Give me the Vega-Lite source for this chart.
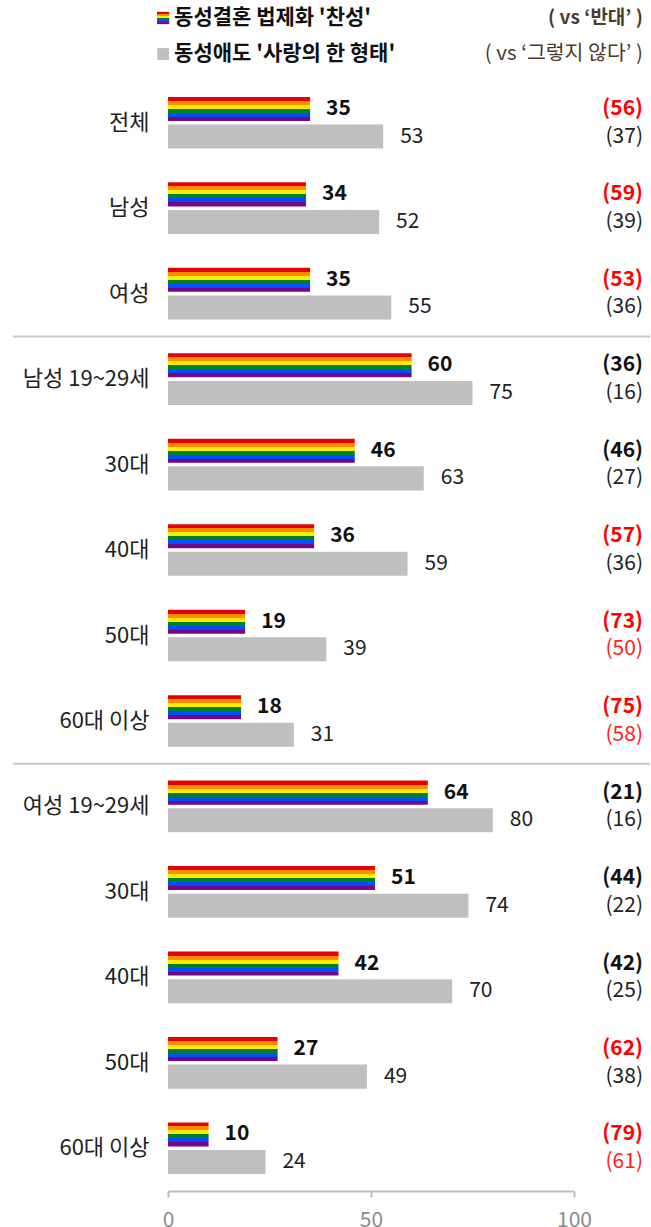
{
  "$schema": "https://vega.github.io/schema/vega-lite/v6.json",
  "autosize": {"type": "pad"},
  "padding": {"left": 11, "top": 0, "right": 0, "bottom": 0},
  "config": {"font": "Noto Sans CJK KR", "view": {"stroke": null}},
  "spacing": 8,
  "datasets": {
    "main": [
      {"id": "01|전체", "series": "찬성", "value": 35, "vs": 56},
      {"id": "01|전체", "series": "사랑", "value": 53, "vs": 37},
      {"id": "02|남성", "series": "찬성", "value": 34, "vs": 59},
      {"id": "02|남성", "series": "사랑", "value": 52, "vs": 39},
      {"id": "03|여성", "series": "찬성", "value": 35, "vs": 53},
      {"id": "03|여성", "series": "사랑", "value": 55, "vs": 36},
      {"id": "04|남성 19~29세", "series": "찬성", "value": 60, "vs": 36},
      {"id": "04|남성 19~29세", "series": "사랑", "value": 75, "vs": 16},
      {"id": "05|30대", "series": "찬성", "value": 46, "vs": 46},
      {"id": "05|30대", "series": "사랑", "value": 63, "vs": 27},
      {"id": "06|40대", "series": "찬성", "value": 36, "vs": 57},
      {"id": "06|40대", "series": "사랑", "value": 59, "vs": 36},
      {"id": "07|50대", "series": "찬성", "value": 19, "vs": 73},
      {"id": "07|50대", "series": "사랑", "value": 39, "vs": 50},
      {"id": "08|60대 이상", "series": "찬성", "value": 18, "vs": 75},
      {"id": "08|60대 이상", "series": "사랑", "value": 31, "vs": 58},
      {"id": "09|여성 19~29세", "series": "찬성", "value": 64, "vs": 21},
      {"id": "09|여성 19~29세", "series": "사랑", "value": 80, "vs": 16},
      {"id": "10|30대", "series": "찬성", "value": 51, "vs": 44},
      {"id": "10|30대", "series": "사랑", "value": 74, "vs": 22},
      {"id": "11|40대", "series": "찬성", "value": 42, "vs": 42},
      {"id": "11|40대", "series": "사랑", "value": 70, "vs": 25},
      {"id": "12|50대", "series": "찬성", "value": 27, "vs": 62},
      {"id": "12|50대", "series": "사랑", "value": 49, "vs": 38},
      {"id": "13|60대 이상", "series": "찬성", "value": 10, "vs": 79},
      {"id": "13|60대 이상", "series": "사랑", "value": 24, "vs": 61}
    ]
  },
  "vconcat": [
    {
      "width": 406,
      "height": 72,
      "data": {"values": [
        {"row": "1", "label": "동성결혼 법제화 '찬성'", "vsLabel": "( vs ‘반대’ )"},
        {"row": "2", "label": "동성애도 '사랑의 한 형태'", "vsLabel": "( vs ‘그렇지 않다’ )"}
      ]},
      "encoding": {
        "y": {"field": "row", "type": "nominal", "axis": null, "scale": {"paddingInner": 0, "paddingOuter": 0}}
      },
      "layer": [
        {
          "transform": [{"filter": "datum.row == '1'"}],
          "mark": {"type": "point", "shape": "square", "size": 150, "filled": true, "opacity": 1,
            "fill": {"gradient": "linear", "x1": 0, "y1": 0, "x2": 0, "y2": 1, "stops": [
              {"offset": 0, "color": "#E40303"}, {"offset": 0.1667, "color": "#E40303"},
              {"offset": 0.1667, "color": "#FF8C00"}, {"offset": 0.3333, "color": "#FF8C00"},
              {"offset": 0.3333, "color": "#FFED00"}, {"offset": 0.5, "color": "#FFED00"},
              {"offset": 0.5, "color": "#008026"}, {"offset": 0.6667, "color": "#008026"},
              {"offset": 0.6667, "color": "#004DFF"}, {"offset": 0.8333, "color": "#004DFF"},
              {"offset": 0.8333, "color": "#750787"}, {"offset": 1, "color": "#750787"}
            ]}},
          "encoding": {"x": {"datum": -1.2, "type": "quantitative", "scale": {"domain": [0, 100]}, "axis": null}}
        },
        {
          "transform": [{"filter": "datum.row == '2'"}],
          "mark": {"type": "point", "shape": "square", "size": 140, "filled": true, "opacity": 1, "color": "#BFBFBF"},
          "encoding": {"x": {"datum": -1.2, "type": "quantitative"}}
        },
        {
          "mark": {"type": "text", "align": "left", "baseline": "middle", "fontSize": 21, "fontWeight": "bold", "color": "#111111"},
          "encoding": {"x": {"datum": 1.5, "type": "quantitative"}, "text": {"field": "label"}}
        },
        {
          "transform": [{"filter": "datum.row == '1'"}],
          "mark": {"type": "text", "align": "right", "baseline": "middle", "fontSize": 19, "fontWeight": "bold", "color": "#4D3B2B"},
          "encoding": {"x": {"datum": 117, "type": "quantitative"}, "text": {"field": "vsLabel"}}
        },
        {
          "transform": [{"filter": "datum.row == '2'"}],
          "mark": {"type": "text", "align": "right", "baseline": "middle", "fontSize": 20.5, "fontWeight": "normal", "color": "#4D3B2B"},
          "encoding": {"x": {"datum": 117, "type": "quantitative"}, "text": {"field": "vsLabel"}}
        }
      ]
    },
    {
      "width": 406,
      "height": 1111,
      "data": {"name": "main"},
      "encoding": {
        "y": {"field": "id", "type": "nominal", "title": null,
          "scale": {"paddingInner": 0, "paddingOuter": 0},
          "axis": {"labelExpr": "split(datum.label, '|')[1]", "ticks": false, "domain": false, "labelPadding": 19, "labelFontSize": 22, "labelColor": "#222222", "labelFont": "Noto Sans CJK KR"}}
      },
      "layer": [
        {
          "data": {"values": [{"id": "04|남성 19~29세"}, {"id": "09|여성 19~29세"}]},
          "mark": {"type": "rule", "color": "#C8C8C8", "strokeWidth": 2},
          "encoding": {
            "y": {"field": "id", "type": "nominal", "bandPosition": 0},
            "x": {"datum": -38.2, "type": "quantitative"},
            "x2": {"datum": 118.7}
          }
        },
        {
          "transform": [{"filter": "datum.series == '찬성'"}],
          "mark": {"type": "bar",
            "fill": {"gradient": "linear", "x1": 0, "y1": 0, "x2": 0, "y2": 1, "stops": [
              {"offset": 0, "color": "#E40303"}, {"offset": 0.1667, "color": "#E40303"},
              {"offset": 0.1667, "color": "#FF8C00"}, {"offset": 0.3333, "color": "#FF8C00"},
              {"offset": 0.3333, "color": "#FFED00"}, {"offset": 0.5, "color": "#FFED00"},
              {"offset": 0.5, "color": "#008026"}, {"offset": 0.6667, "color": "#008026"},
              {"offset": 0.6667, "color": "#004DFF"}, {"offset": 0.8333, "color": "#004DFF"},
              {"offset": 0.8333, "color": "#750787"}, {"offset": 1, "color": "#750787"}
            ]}},
          "encoding": {
            "x": {"field": "value", "type": "quantitative", "title": null,
              "scale": {"domain": [0, 100], "nice": false},
              "axis": {"values": [0, 50, 100], "grid": false, "labelFlush": false, "domainColor": "#BFBFBF", "domainWidth": 2, "tickColor": "#BFBFBF", "tickWidth": 2, "tickSize": 6, "labelColor": "#8C8C8C", "labelFontSize": 21, "labelPadding": 12, "labelFont": "Noto Sans CJK KR"}},
            "yOffset": {"field": "series", "type": "nominal", "scale": {"domain": ["찬성", "사랑"], "paddingInner": 0.13, "paddingOuter": 0.612}}
          }
        },
        {
          "transform": [{"filter": "datum.series == '사랑'"}],
          "mark": {"type": "bar", "color": "#BFBFBF"},
          "encoding": {
            "x": {"field": "value", "type": "quantitative"},
            "yOffset": {"field": "series", "type": "nominal"}
          }
        },
        {
          "transform": [{"filter": "datum.series == '찬성'"}],
          "mark": {"type": "text", "align": "left", "baseline": "middle", "dx": 16, "fontSize": 21, "fontWeight": "bold", "color": "#111111"},
          "encoding": {
            "x": {"field": "value", "type": "quantitative"},
            "yOffset": {"field": "series", "type": "nominal"},
            "text": {"field": "value"}
          }
        },
        {
          "transform": [{"filter": "datum.series == '사랑'"}],
          "mark": {"type": "text", "align": "left", "baseline": "middle", "dx": 17, "fontSize": 21, "fontWeight": "normal", "color": "#222222"},
          "encoding": {
            "x": {"field": "value", "type": "quantitative"},
            "yOffset": {"field": "series", "type": "nominal"},
            "text": {"field": "value"}
          }
        },
        {
          "transform": [{"filter": "datum.series == '찬성'"}, {"calculate": "'(' + datum.vs + ')'", "as": "vsLabel"}],
          "mark": {"type": "text", "align": "right", "baseline": "middle", "fontSize": 21, "fontWeight": "bold"},
          "encoding": {
            "x": {"datum": 117, "type": "quantitative"},
            "yOffset": {"field": "series", "type": "nominal"},
            "text": {"field": "vsLabel"},
            "color": {"condition": {"test": "datum.vs > datum.value", "value": "#FF0000"}, "value": "#111111"}
          }
        },
        {
          "transform": [{"filter": "datum.series == '사랑'"}, {"calculate": "'(' + datum.vs + ')'", "as": "vsLabel"}],
          "mark": {"type": "text", "align": "right", "baseline": "middle", "fontSize": 21, "fontWeight": "normal"},
          "encoding": {
            "x": {"datum": 117, "type": "quantitative"},
            "yOffset": {"field": "series", "type": "nominal"},
            "text": {"field": "vsLabel"},
            "color": {"condition": {"test": "datum.vs > datum.value", "value": "#FF2020"}, "value": "#222222"}
          }
        }
      ]
    }
  ]
}
